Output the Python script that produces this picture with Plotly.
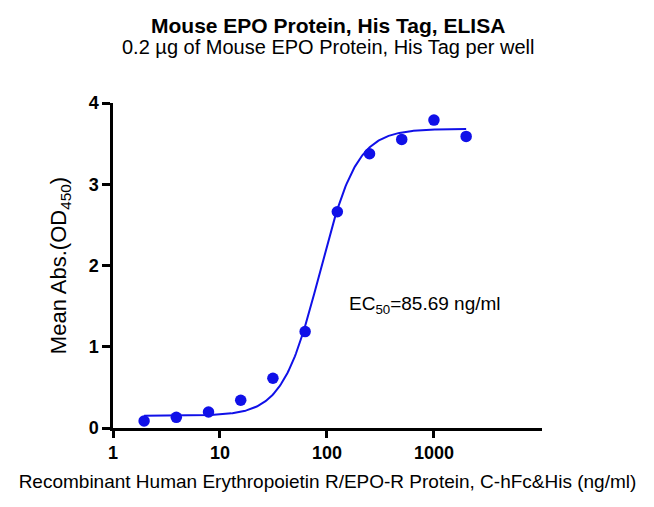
import numpy as np
import plotly.graph_objects as go

# Data
conc = [1.953, 3.906, 7.813, 15.625, 31.25, 62.5, 125, 250, 500, 1000, 2000]
od450 = [0.086, 0.131, 0.197, 0.341, 0.612, 1.187, 2.661, 3.376, 3.552, 3.790, 3.589]

# 4PL fit parameters
fit_bottom = 0.15
fit_top = 3.68
fit_ec50 = 85.69
fit_hill = 2.5

x_ticks = [1, 10, 100, 1000]
x_tick_labels = ["1", "10", "100", "1000"]
y_ticks = [0, 1, 2, 3, 4]

blue = "#1010E8"
font_family = "Liberation Sans, Arial, sans-serif"

xc = np.logspace(np.log10(conc[0]), np.log10(conc[-1]), 300)
yc = fit_bottom + (fit_top - fit_bottom) / (1 + (fit_ec50 / xc) ** fit_hill)

fig = go.Figure()
fig.add_trace(go.Scatter(x=xc, y=yc, mode="lines",
                         line=dict(color=blue, width=2), hoverinfo="skip",
                         showlegend=False))
fig.add_trace(go.Scatter(x=conc, y=od450, mode="markers",
                         marker=dict(color=blue, size=11.5), cliponaxis=False,
                         showlegend=False))

fig.update_layout(
    width=654, height=507,
    margin=dict(l=105, r=120, t=95, b=87),
    paper_bgcolor="white", plot_bgcolor="white",
    font=dict(family=font_family, color="black"),
    showlegend=False,
    xaxis=dict(type="log", range=[0, 4.01], tickvals=x_ticks, ticktext=x_tick_labels,
               showgrid=False, zeroline=False, showline=True, linecolor="black",
               linewidth=2.5, ticks="outside", ticklen=7, tickwidth=2.5, tickcolor="black",
               tickfont=dict(size=18, family=font_family, weight="bold"),
               title=dict(text="Recombinant Human Erythropoietin R/EPO-R Protein, C-hFc&His (ng/ml)",
                          font=dict(size=19), standoff=13)),
    yaxis=dict(range=[0, 4], tickvals=y_ticks, showgrid=False, zeroline=False,
               showline=True, linecolor="black", linewidth=2.5, ticks="outside",
               ticklen=8, tickwidth=2.5, tickcolor="black",
               tickfont=dict(size=18, family=font_family, weight="bold"),
               title=dict(text="Mean Abs.(OD<sub>450</sub>)", font=dict(size=22), standoff=16)),
    annotations=[
        dict(text="<b>Mouse EPO Protein, His Tag, ELISA</b>", x=0.5, y=1.24,
             xref="paper", yref="paper", xanchor="center", yanchor="middle",
             showarrow=False, font=dict(size=21)),
        dict(text="0.2 µg of Mouse EPO Protein, His Tag per well", x=0.5, y=1.172,
             xref="paper", yref="paper", xanchor="center", yanchor="middle",
             showarrow=False, font=dict(size=20)),
        dict(text="EC<sub>50</sub>=85.69 ng/ml", x=np.log10(824), y=1.51, xref="x", yref="y",
             showarrow=False, font=dict(size=19)),
    ],
)

fig.write_html("out.html")
